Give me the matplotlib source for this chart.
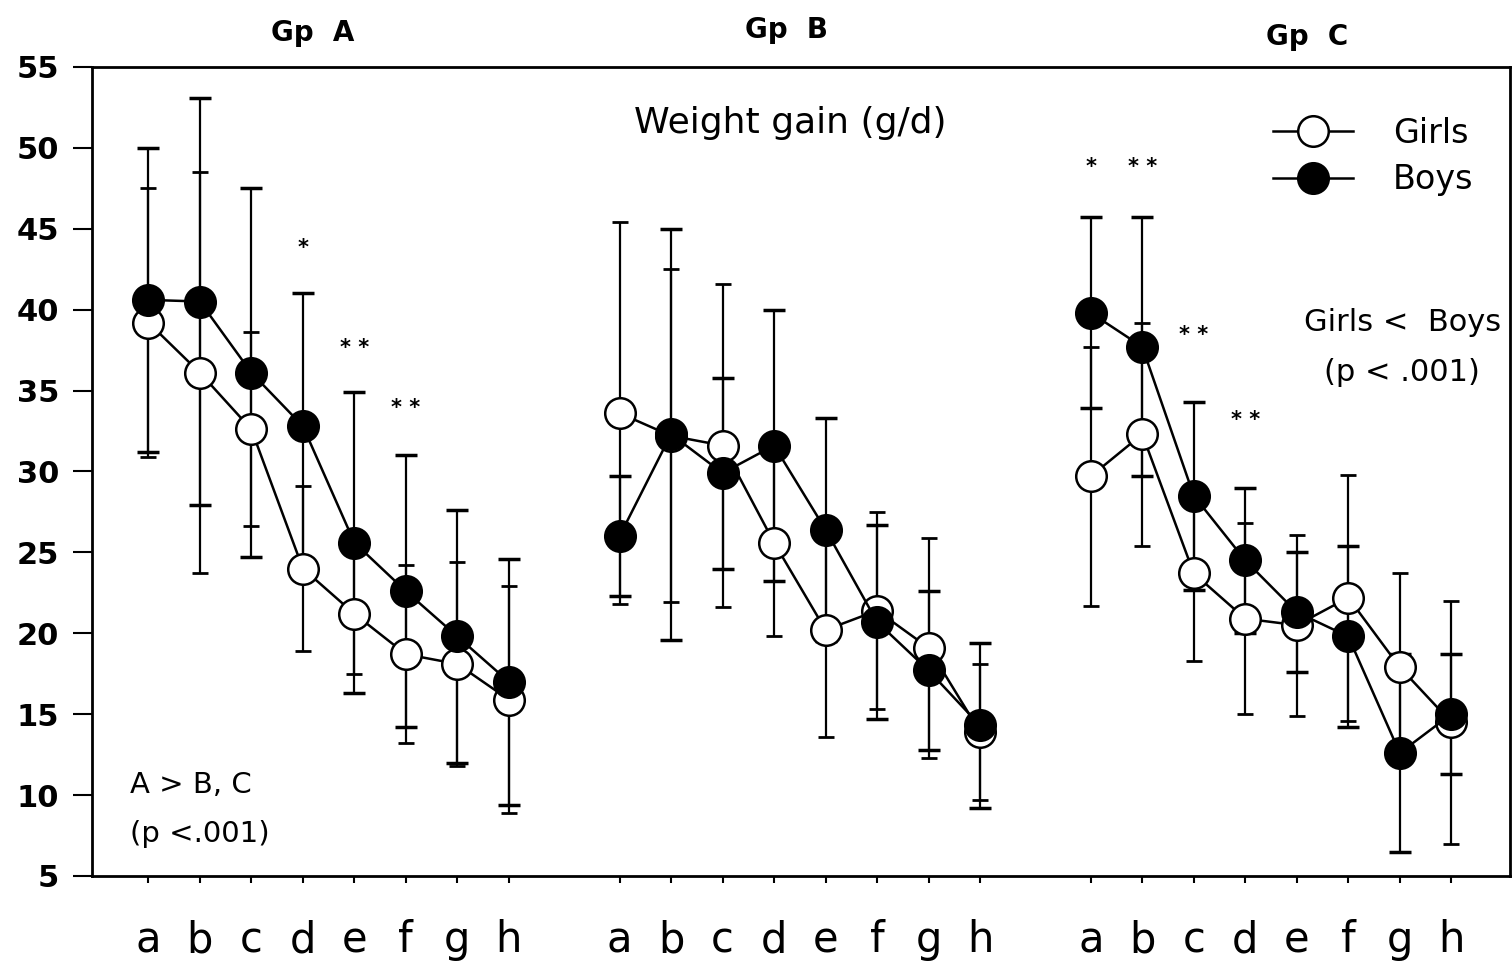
import matplotlib.pyplot as plt
import numpy as np

# period labels inside each group
periods = ["a", "b", "c", "d", "e", "f", "g", "h"]
groups = ["Gp  A", "Gp  B", "Gp  C"]

# mean weight gain (g/d)
girls_A = [39.2, 36.1, 32.6, 24.0, 21.2, 18.7, 18.1, 15.9]
boys_A = [40.6, 40.5, 36.1, 32.8, 25.6, 22.6, 19.8, 17.0]
girls_B = [33.6, 32.2, 31.6, 25.6, 20.2, 21.4, 19.1, 13.9]
boys_B = [26.0, 32.3, 29.9, 31.6, 26.4, 20.7, 17.7, 14.3]
girls_C = [29.7, 32.3, 23.7, 20.9, 20.5, 22.2, 17.9, 14.5]
boys_C = [39.8, 37.7, 28.5, 24.5, 21.3, 19.8, 12.6, 15.0]

# SD bars
girls_sd_A = [8.3, 12.4, 6.0, 5.1, 3.7, 5.5, 6.3, 7.0]
boys_sd_A = [9.4, 12.6, 11.4, 8.2, 9.3, 8.4, 7.8, 7.6]
girls_sd_B = [11.8, 10.3, 10.0, 5.8, 6.6, 6.1, 6.8, 4.2]
boys_sd_B = [3.7, 12.7, 5.9, 8.4, 6.9, 6.0, 4.9, 5.1]
girls_sd_C = [8.0, 6.9, 5.4, 5.9, 5.6, 7.6, 5.8, 7.5]
boys_sd_C = [5.9, 8.0, 5.8, 4.5, 3.7, 5.6, 6.1, 3.7]

# significance marks (group, period index, y, text)
stars = [(0, 3, 43.8, "*"), (0, 4, 37.6, "* *"), (0, 5, 33.9, "* *"),
         (2, 0, 48.8, "*"), (2, 1, 48.8, "* *"), (2, 2, 38.4, "* *"),
         (2, 3, 33.2, "* *")]

girls = [girls_A, girls_B, girls_C]
boys = [boys_A, boys_B, boys_C]
girls_sd = [girls_sd_A, girls_sd_B, girls_sd_C]
boys_sd = [boys_sd_A, boys_sd_B, boys_sd_C]

offset = 9.15
title_x = [3.2, 3.25, 4.2]
title_y = [56.2, 56.4, 56.0]

fig = plt.figure(figsize=(15.12, 9.69), dpi=100)
ax = fig.add_axes([0.061, 0.096, 0.938, 0.835])

for g in range(3):
    x = np.arange(8) + g * offset
    ax.errorbar(x, girls[g], yerr=girls_sd[g], fmt="none", ecolor="black",
                elinewidth=1.6, capsize=6, capthick=2, zorder=1)
    ax.errorbar(x, boys[g], yerr=boys_sd[g], fmt="none", ecolor="black",
                elinewidth=1.6, capsize=8, capthick=2.5, zorder=1)
    ax.plot(x, girls[g], color="black", lw=1.8, marker="o", ms=22,
            mfc="white", mec="black", mew=1.8, zorder=3,
            label="Girls" if g == 0 else None)
    ax.plot(x, boys[g], color="black", lw=1.8, marker="o", ms=22,
            mfc="black", mec="black", mew=1.8, zorder=4,
            label="Boys" if g == 0 else None)
    ax.text(g * offset + title_x[g], title_y[g], groups[g], ha="center",
            va="bottom", fontsize=20, fontweight="bold")

for g, i, y, s in stars:
    ax.text(g * offset + i, y, s, ha="center", va="center", fontsize=15,
            fontweight="bold")

ax.set_xlim(-1.09, 26.45)
ax.set_ylim(5, 55)
ax.set_yticks(np.arange(5, 56, 5))
ax.tick_params(axis="y", direction="out", length=14, width=1.5, labelsize=22,
               pad=10)
for lab in ax.get_yticklabels():
    lab.set_fontweight("bold")
xt = np.concatenate([np.arange(8) + g * offset for g in range(3)])
ax.set_xticks(xt)
ax.set_xticklabels(periods * 3, fontsize=30)
ax.tick_params(axis="x", direction="out", length=5, width=1.5, pad=26)
for s in ax.spines.values():
    s.set_linewidth(2)

ax.text(12.47, 51.5, "Weight gain (g/d)", ha="center", va="center",
        fontsize=26)
ax.text(-0.35, 10.6, "A > B, C", ha="left", va="center", fontsize=21)
ax.text(-0.35, 7.6, "(p <.001)", ha="left", va="center", fontsize=21)
ax.text(24.35, 39.2, "Girls <  Boys", ha="center", va="center", fontsize=22)
ax.text(24.35, 36.1, "(p < .001)", ha="center", va="center", fontsize=22)

ax.legend(loc="upper right", bbox_to_anchor=(0.995, 0.975), frameon=False,
          fontsize=24, handlelength=2.4, markerscale=1.0, labelspacing=0.4,
          handletextpad=1.2)

fig.savefig("out.png", dpi=100)
